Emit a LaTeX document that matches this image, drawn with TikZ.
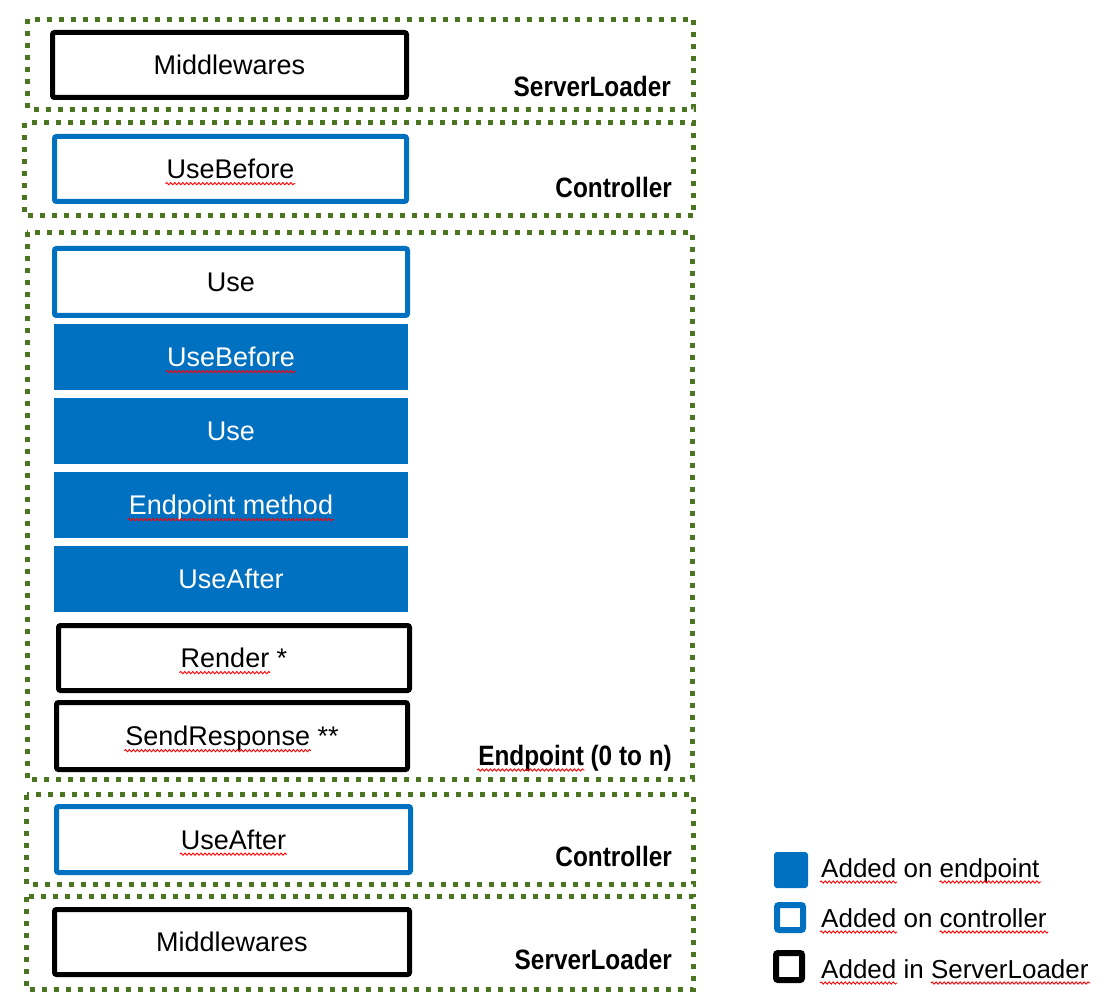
\documentclass[tikz,border=0pt]{standalone}
\usepackage{fontspec}
\setmainfont{Liberation Sans}
\usetikzlibrary{decorations.pathmorphing}
\definecolor{msblue}{HTML}{0070C0}
\definecolor{dotgreen}{HTML}{4B7520}
\newcommand\boxfont{\fontsize{27}{32}\selectfont}
\newcommand\legfont{\fontsize{26}{30}\selectfont}
\newcommand\labfont{\fontsize{28}{32}\selectfont\bfseries}
\newlength\sqwUB \newlength\sqwEM \newlength\sqwRe \newlength\sqwSR
\newlength\sqwUA \newlength\sqwEP \newlength\sqwAd \newlength\sqwAon
\newlength\sqwAin \newlength\sqwEnd \newlength\sqwCon \newlength\sqwSL
\newcommand\wavy[3]{\draw[sqg] ([xshift=#2,yshift=-5pt]#1.base west) -- ++(#3+2pt,0pt);}
\tikzset{
  cont/.style={draw=dotgreen, line width=5pt, dash pattern=on 5pt off 7pt},
  box/.style={line width=5pt, rounded corners=2pt, inner sep=0pt},
  sbox/.style={box, draw=black},
  cbox/.style={box, draw=msblue},
  ebox/.style={box, fill=msblue, rounded corners=0pt},
  btxt/.style={inner sep=0pt, font=\boxfont, text height=19.3pt, text depth=0pt},
  wtxt/.style={btxt, text=white},
  lab/.style={anchor=base east, inner sep=0pt, font=\labfont},
  legtxt/.style={anchor=base west, inner sep=0pt, font=\legfont},
  sqg/.style={draw=red, line width=0.9pt, decorate,
    decoration={snake, amplitude=1.1pt, segment length=4pt}},
}
\begin{document}
\settowidth\sqwUB{\boxfont UseBefore}%
\settowidth\sqwEM{\boxfont Endpoint method}%
\settowidth\sqwRe{\boxfont Render}%
\settowidth\sqwSR{\boxfont SendResponse}%
\settowidth\sqwUA{\boxfont UseAfter}%
\settowidth\sqwEP{\labfont Endpoint}%
\settowidth\sqwAd{\legfont Added}%
\settowidth\sqwAon{\legfont Added on\ }%
\settowidth\sqwAin{\legfont Added in\ }%
\settowidth\sqwEnd{\legfont endpoint}%
\settowidth\sqwCon{\legfont controller}%
\settowidth\sqwSL{\legfont ServerLoader}%
\begin{tikzpicture}[x=1pt, y=-1pt]
\useasboundingbox (0,0) rectangle (1114,1000);
\fill[white] (0,0) rectangle (1114,1000);

% containers
\draw[cont] (27.5,19.5) rectangle (693.5,109.5);
\draw[cont] (24.5,123) rectangle (693.5,216);
\draw[cont] (27,232.5) rectangle (692.5,779.5);
\draw[cont] (26.5,794.5) rectangle (693.5,884.5);
\draw[cont] (26.5,896.5) rectangle (693.5,989);

% boxes
\node[sbox, minimum width=354pt, minimum height=65pt] (mid1) at (229.5,65) {};
\node[cbox, minimum width=352pt, minimum height=65pt] (ub1) at (230.5,169) {};
\node[cbox, minimum width=353pt, minimum height=67pt] (use1) at (231,282) {};
\node[ebox, minimum width=354pt, minimum height=66pt] (ub2) at (231,357) {};
\node[ebox, minimum width=354pt, minimum height=66pt] (use2) at (231,431) {};
\node[ebox, minimum width=354pt, minimum height=66pt] (em) at (231,505) {};
\node[ebox, minimum width=354pt, minimum height=66pt] (ua1) at (231,579) {};
\node[sbox, minimum width=351pt, minimum height=65pt] (rend) at (234,658) {};
\node[sbox, minimum width=351pt, minimum height=67pt] (send) at (232,736) {};
\node[cbox, minimum width=354pt, minimum height=66pt] (ua2) at (233.5,839.5) {};
\node[sbox, minimum width=355pt, minimum height=65pt] (mid2) at (232,942) {};

% box texts
\node[btxt] (mid1t) at (mid1) {Middlewares};
\node[btxt] (ub1t) at (ub1) {UseBefore};
\node[btxt] (use1t) at (use1) {Use};
\node[wtxt] (ub2t) at (ub2) {UseBefore};
\node[wtxt] (use2t) at (use2) {Use};
\node[wtxt] (emt) at (em) {Endpoint method};
\node[wtxt] (ua1t) at (ua1) {UseAfter};
\node[btxt] (rendt) at (rend) {Render *};
\node[btxt] (sendt) at (send) {SendResponse **};
\node[btxt] (ua2t) at (ua2) {UseAfter};
\node[btxt] (mid2t) at (mid2) {Middlewares};

% labels
\node[lab] (l1) at (671,97) {\scalebox{0.87}[1]{ServerLoader}};
\node[lab] (l2) at (672,198) {\scalebox{0.87}[1]{Controller}};
\node[lab] (l3) at (672,765) {\scalebox{0.87}[1]{Endpoint (0 to n)}};
\node[lab] (l4) at (672,866) {\scalebox{0.87}[1]{Controller}};
\node[lab] (l5) at (672,969) {\scalebox{0.87}[1]{ServerLoader}};

% legend
\node[fill=msblue, rounded corners=3pt, minimum width=34pt, minimum height=36pt, inner sep=0pt] (lg1) at (791,870) {};
\node[draw=msblue, line width=6pt, rounded corners=2pt, minimum width=26pt, minimum height=25pt, inner sep=0pt] (lg2) at (790,917.5) {};
\node[draw=black, line width=6pt, rounded corners=2pt, minimum width=26pt, minimum height=27pt, inner sep=0pt] (lg3) at (789,966.5) {};
\node[legtxt] (lt1) at (821,877) {Added on endpoint};
\node[legtxt] (lt2) at (821,927) {Added on controller};
\node[legtxt] (lt3) at (821,978) {Added in ServerLoader};

% spell-check squiggles
\wavy{ub1t}{-1pt}{\sqwUB}
\wavy{ub2t}{-1pt}{\sqwUB}
\wavy{emt}{-1pt}{\sqwEM}
\wavy{rendt}{-1pt}{\sqwRe}
\wavy{sendt}{-1pt}{\sqwSR}
\wavy{ua2t}{-1pt}{\sqwUA}
\wavy{l3}{-1pt}{0.87\sqwEP}
\wavy{lt1}{-1pt}{\sqwAd}
\wavy{lt2}{-1pt}{\sqwAd}
\wavy{lt3}{-1pt}{\sqwAd}
\wavy{lt1}{\sqwAon}{\sqwEnd}
\wavy{lt2}{\sqwAon}{\sqwCon}
\wavy{lt3}{\sqwAin}{\sqwSL}
\end{tikzpicture}
\end{document}
